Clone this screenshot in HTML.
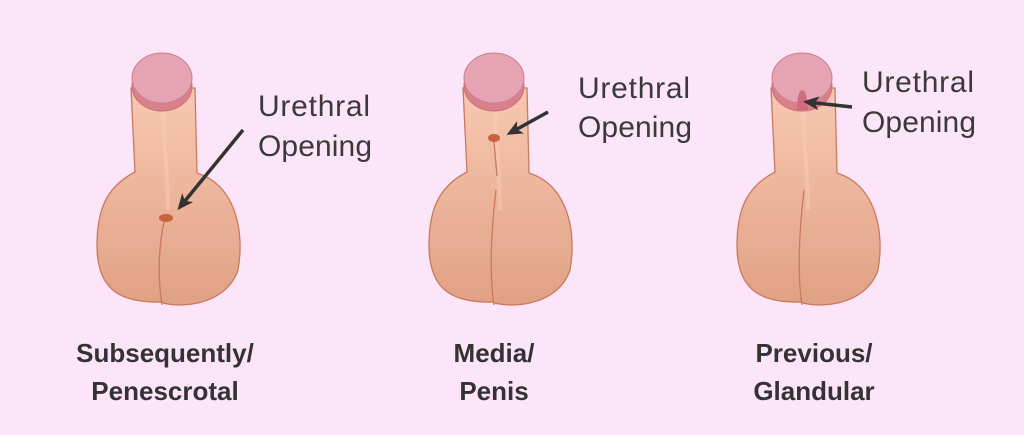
<!DOCTYPE html>
<html><head><meta charset="utf-8"><style>
html,body{margin:0;padding:0;background:#fde5f9;}
svg{display:block}
</style></head><body>
<svg width="1024" height="435" viewBox="0 0 1024 435" xmlns="http://www.w3.org/2000/svg">
<defs>
<linearGradient id="sk" x1="0" y1="0" x2="0" y2="1">
<stop offset="0" stop-color="#f8c8b2"/><stop offset="1" stop-color="#e0a184"/>
</linearGradient>
<marker id="ah" markerWidth="16" markerHeight="14" refX="12" refY="7" orient="auto" markerUnits="userSpaceOnUse">
<path d="M0,0 L16,7 L0,14 L4,7 Z" fill="#333"/></marker>
<g id="fig">
<path d="M131,88 L135,172 C110,185 97,205 97,245 C97,285 115,303 160,302 C175,308 225,308 238,270 C245,230 235,185 197,173 L195,88 Z" fill="url(#sk)" stroke="#c97a5c" stroke-width="1.3"/>
<path d="M163,100 C163,140 168,170 168,210" stroke="#fbd3c0" stroke-width="4" fill="none" opacity="0.35"/>
<ellipse cx="162" cy="86" rx="30" ry="25" fill="#d9808f" stroke="#c9706f" stroke-width="1"/>
<ellipse cx="162" cy="78" rx="30" ry="25" fill="#e6a3b4" stroke="#c9808a" stroke-width="1"/>
</g>
</defs>
<use href="#fig"/>
<ellipse cx="166" cy="218" rx="7" ry="4" fill="#c9623e"/>
<path d="M164,222 C158,250 158,280 162,305" stroke="#c97a5c" stroke-width="1.3" fill="none"/>
<use href="#fig" x="332"/>
<ellipse cx="494" cy="138" rx="6" ry="4" fill="#c9623e"/>
<path d="M494,142 L497,176" stroke="#c97a5c" stroke-width="1.3" fill="none"/>
<path d="M496,190 C490,240 490,280 494,305" stroke="#c97a5c" stroke-width="1.3" fill="none"/>
<use href="#fig" x="640"/>
<path d="M797,110 C797,95 800,90 802,90 C806,90 807,98 808,110 Z" fill="#cf6d7c"/>
<path d="M804,190 C798,240 798,280 802,305" stroke="#c97a5c" stroke-width="1.3" fill="none"/>
<g stroke="#333" stroke-width="3.5" fill="none">
<line x1="243" y1="130" x2="180" y2="207" marker-end="url(#ah)"/>
<line x1="548" y1="112" x2="510" y2="133" marker-end="url(#ah)"/>
<line x1="852" y1="107" x2="807" y2="102" marker-end="url(#ah)"/>
</g>
<g font-family="Liberation Sans, sans-serif" font-size="30" fill="#3a3a3a">
<text x="258" y="116" textLength="112">Urethral</text><text x="258" y="156" textLength="114">Opening</text>
<text x="578" y="98" textLength="112">Urethral</text><text x="578" y="137" textLength="114">Opening</text>
<text x="862" y="92" textLength="112">Urethral</text><text x="862" y="132" textLength="114">Opening</text>
</g>
<g font-family="Liberation Sans, sans-serif" font-size="26" font-weight="bold" fill="#333" text-anchor="middle">
<text x="165" y="362">Subsequently/</text><text x="165" y="400">Penescrotal</text>
<text x="494" y="362">Media/</text><text x="494" y="400">Penis</text>
<text x="814" y="362">Previous/</text><text x="814" y="400">Glandular</text>
</g>
</svg>
</body></html>
